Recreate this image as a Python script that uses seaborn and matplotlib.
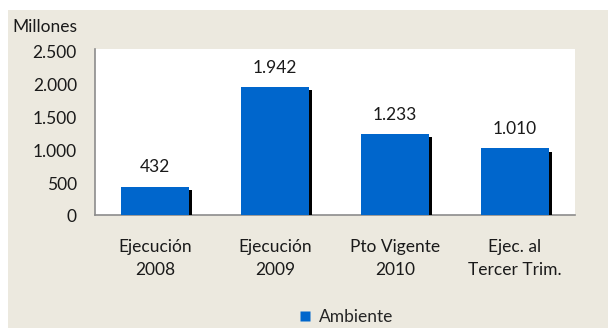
import matplotlib
matplotlib.use("Agg")
import matplotlib.pyplot as plt
import matplotlib.patheffects as pe
import matplotlib.transforms as mtransforms
from matplotlib.patches import Rectangle
from matplotlib.lines import Line2D
import seaborn as sns
import pandas as pd

categories = ["Ejecución\n2008", "Ejecución\n2009", "Pto Vigente\n2010", "Ejec. al\nTercer Trim."]
values = [432, 1942, 1233, 1010]
yticks = [0, 500, 1000, 1500, 2000, 2500]
series_name = "Ambiente"

BLUE = "#0066CC"
BEIGE = "#ECE9DF"
TEXT = "#1a1a1a"

sns.set_theme(style="white")
plt.rcParams["font.family"] = ["Lato", "DejaVu Sans"]
plt.rcParams["font.size"] = 12.5


def dotted(v):
    return f"{v:,.0f}".replace(",", ".")


df = pd.DataFrame({"cat": categories, "val": values})

fig = plt.figure(figsize=(6.08, 3.28), dpi=100)
fig.patch.set_facecolor("white")
background = Rectangle((8 / 608, 0), 600 / 608, 318 / 328,
                       transform=fig.transFigure, facecolor=BEIGE,
                       edgecolor="none", zorder=-10)
fig.add_artist(background)

ax = fig.add_axes([95 / 608, 1 - 215 / 328, 480 / 608, 166 / 328])
ax.set_facecolor("white")

sns.barplot(data=df, x="cat", y="val", color=BLUE, saturation=1,
            width=0.57, ax=ax, zorder=3)

# drop shadow on the lower-right side of each bar
for bar in ax.patches:
    bar.set_edgecolor("none")
    bar.set_path_effects([
        pe.SimplePatchShadow(offset=(2.2, -2.2), shadow_rgbFace="black", alpha=1.0),
        pe.Normal(),
    ])

ax.bar_label(ax.containers[0], labels=[dotted(v) for v in values],
             padding=8, fontsize=12.5, color=TEXT)

ax.set_ylim(0, 2520)
ax.set_yticks(yticks)
ax.set_yticklabels([dotted(v) for v in yticks])
ax.set_xlabel("")
ax.set_ylabel("")
ax.tick_params(axis="y", length=0, pad=13, labelsize=12.5, colors=TEXT)
ax.tick_params(axis="x", length=0, pad=17, labelsize=12.5, colors=TEXT)
for lbl in ax.get_xticklabels():
    lbl.set_linespacing(1.6)

# nudge the y tick labels slightly downward
shift = mtransforms.ScaledTranslation(0, -1 / 100, fig.dpi_scale_trans)
for lbl in ax.get_yticklabels():
    lbl.set_transform(lbl.get_transform() + shift)

for side in ("top", "right"):
    ax.spines[side].set_visible(False)
for side in ("left", "bottom"):
    ax.spines[side].set_color("#8c8c8c")
    ax.spines[side].set_linewidth(1.2)

fig.text(12 / 608, 1 - 27 / 328, "Millones", fontsize=12.5, color=TEXT,
         ha="left", va="center")

handle = Line2D([], [], marker="s", linestyle="none", markersize=7,
                markerfacecolor=BLUE, markeredgecolor="none")
fig.legend([handle], [series_name], loc="center", bbox_to_anchor=(345 / 608, 1 - 317 / 328),
           frameon=False, fontsize=12.5, handletextpad=0.3, handlelength=1.0)

fig.savefig("out.png", dpi=100)
